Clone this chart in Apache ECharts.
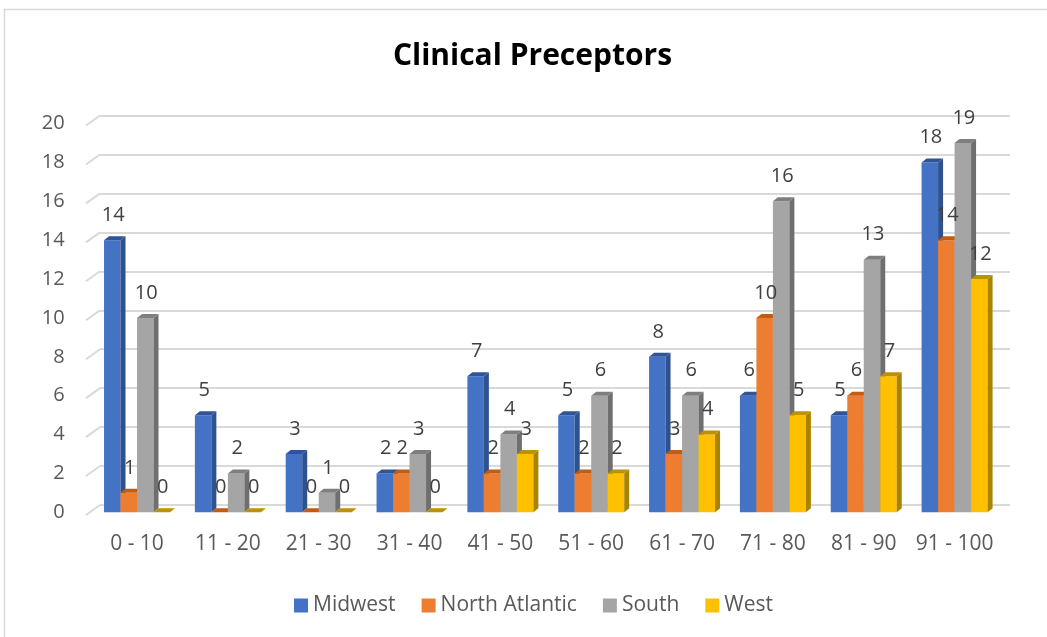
<!DOCTYPE html>
<html>
<head>
<meta charset="utf-8">
<script src="https://cdn.jsdelivr.net/npm/echarts@6/dist/echarts.min.js"></script>
<style>
html,body{margin:0;padding:0;background:#fff;}
#chart{width:1047px;height:637px;}
</style>
</head>
<body>
<div id="chart"></div>
<script>
const categories = ['0 - 10','11 - 20','21 - 30','31 - 40','41 - 50','51 - 60','61 - 70','71 - 80','81 - 90','91 - 100'];
const seriesNames = ['Midwest','North Atlantic','South','West'];
const midwest = [14,5,3,2,7,5,8,6,5,18];
const northAtlantic = [1,0,0,2,2,2,3,10,6,14];
const south = [10,2,1,3,4,6,6,16,13,19];
const west = [0,0,0,0,3,2,4,5,7,12];
const yTicks = [0,2,4,6,8,10,12,14,16,18,20];

const allValues = [midwest, northAtlantic, south, west];
const frontColors = ['#4472C4','#ED7D31','#A5A5A5','#FFC000'];
const sideColors  = ['#2F528F','#AE5A21','#6F6F6F','#A98400'];
const topColors   = ['#2F5597','#C55A11','#7F7F7F','#BF9000'];

const FONT = 'Open Sans';
const DX = 5, DY = 4, BAR_W = 16.5;

function barRenderer(sIdx) {
  return function (params, api) {
    const i = api.value(0), v = api.value(1);
    const p = api.coord([i, v]);
    const p0 = api.coord([i, 0]);
    const x0 = p[0] - 2 * BAR_W + sIdx * BAR_W;
    const x1 = x0 + BAR_W;
    const yt = p[1], yb = p0[1];
    const children = [];
    if (yb - yt > 0.5) {
      children.push({type:'rect', shape:{x:x0, y:yt, width:BAR_W, height:yb-yt}, style:{fill:frontColors[sIdx]}});
      children.push({type:'polygon', shape:{points:[[x1,yt],[x1+DX,yt-DY],[x1+DX,yb-DY],[x1,yb]]}, style:{fill:sideColors[sIdx]}});
    }
    children.push({type:'polygon', shape:{points:[[x0,yt],[x0+DX,yt-DY],[x1+DX,yt-DY],[x1,yt]]}, style:{fill:topColors[sIdx]}});
    return {type:'group', children};
  };
}

const series = [];
series.push({
  type:'custom', xAxisIndex:1, yAxisIndex:1, silent:true, z:1,
  data: yTicks.map(t => [0, t]),
  renderItem: function (params, api) {
    const y = api.coord([0, api.value(1)])[1];
    const x = params.coordSys.x;
    return {type:'line', shape:{x1:x-14, y1:y+10, x2:x, y2:y}, style:{stroke:'#d9d9d9', lineWidth:2}};
  }
});
seriesNames.forEach((name, s) => {
  series.push({
    name, type:'custom', xAxisIndex:0, yAxisIndex:0, z:2,
    itemStyle:{color:frontColors[s]},
    data: allValues[s].map((v, i) => [i, v]),
    renderItem: barRenderer(s)
  });
});
const labelData = [];
allValues.forEach((arr, s) => arr.forEach((v, i) => labelData.push([i, v, s])));
series.push({
  type:'custom', xAxisIndex:0, yAxisIndex:0, z:5, silent:true,
  data: labelData,
  renderItem: function (params, api) {
    const i = api.value(0), v = api.value(1), s = api.value(2);
    const p = api.coord([i, v]);
    const x = p[0] - 2 * BAR_W + s * BAR_W + BAR_W / 2 + 1;
    return {type:'text', style:{text:String(v), x:x, y:p[1]-25, textAlign:'center', textVerticalAlign:'middle',
      fill:'#404040', font:'20px "' + FONT + '"'}};
  }
});

const chart = echarts.init(document.getElementById('chart'));
chart.setOption({
  animation:false,
  color: frontColors,
  textStyle:{fontFamily:FONT},
  graphic:[
    {type:'rect', shape:{x:4.5, y:9.5, width:1100, height:700}, style:{fill:null, stroke:'#d9d9d9', lineWidth:1.5}, z:-1},
    {type:'text', x:532.5, y:56, style:{text:'Clinical Preceptors', textAlign:'center', textVerticalAlign:'middle',
      font:'bold 30px "' + FONT + '"', fill:'#000'}}
  ],
  legend:{
    data: seriesNames, left:289, top:590, itemWidth:14, itemHeight:14, itemGap:26, icon:'rect',
    textStyle:{fontSize:21, color:'#595959', fontFamily:FONT}
  },
  grid:[
    {left:91.6, top:123.6, width:908.4, height:388.7},
    {left:100, top:115.5, width:910, height:389.5}
  ],
  xAxis:[
    {gridIndex:0, type:'category', data:categories, axisLine:{show:false}, axisTick:{show:false},
      axisLabel:{interval:0, fontSize:21, color:'#595959', margin:21, fontFamily:FONT}},
    {gridIndex:1, type:'category', data:categories, show:false}
  ],
  yAxis:[
    {gridIndex:0, type:'value', min:0, max:20, interval:2, splitLine:{show:false}, axisLine:{show:false}, axisTick:{show:false},
      axisLabel:{fontSize:20, color:'#595959', margin:27, fontFamily:FONT, verticalAlign:'middle', padding:[6,0,0,0]}},
    {gridIndex:1, type:'value', min:0, max:20, interval:2, axisLabel:{show:false}, axisLine:{show:false}, axisTick:{show:false},
      splitLine:{show:true, lineStyle:{color:'#d9d9d9', width:2}}}
  ],
  series
});
</script>
</body>
</html>
